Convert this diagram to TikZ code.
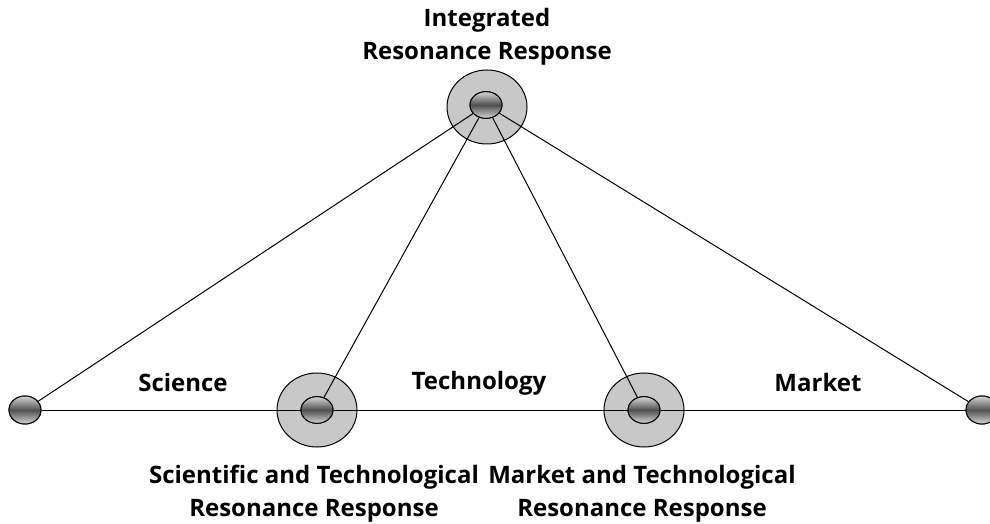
\documentclass[tikz,border=0pt]{standalone}
\usepackage{fontspec}
\setmainfont{Open Sans}
\usetikzlibrary{shapes.geometric}

\tikzset{every picture/.style={line width=0.75pt}}
\tikzset{
  outerring/.style={ellipse,draw,fill={rgb, 255:red, 200; green, 200; blue, 200},minimum width=60pt,minimum height=55.5pt,inner sep=0pt},
  innercore/.style={ellipse,draw,shading=axis,top color={rgb, 255:red, 215; green, 215; blue, 215},bottom color={rgb, 255:red, 215; green, 215; blue, 215},middle color={rgb, 255:red, 80; green, 80; blue, 80},minimum width=24pt,minimum height=20pt,inner sep=0pt},
  lbl/.style={font=\bfseries\fontsize{18}{25}\selectfont,align=center}
}

\begin{document}
\begin{tikzpicture}[x=0.75pt,y=0.75pt,yscale=-1,xscale=1]
	\useasboundingbox (0,0) rectangle (990,524);

	%Shape: Ellipse (outer rings)
	\node [outerring] (topring) at (487,107) {};
	\node [outerring] (sciring) at (317,410) {};
	\node [outerring] (mktring) at (644,410) {};

	%Shape: Ellipse (cores)
	\path (486,105) node [innercore] (top) {};
	\path (317,410) node [innercore] (sci) {};
	\path (644,410) node [innercore] (mkt) {};
	\path (25,410) node [innercore,minimum height=21pt] (left) {};
	\path (982,410) node [innercore,minimum height=21pt] (right) {};

	%Straight Lines
	\draw (left) -- (sci) ;
	\draw (sci) -- (mkt) ;
	\draw (mkt) -- (right) ;
	\draw (top) -- (left) ;
	\draw (top) -- (sci) ;
	\draw (top) -- (mkt) ;
	\draw (top) -- (right) ;

	%redraw cores over the lines
	\path (486,105) node [innercore] {};
	\path (317,410) node [innercore] {};
	\path (644,410) node [innercore] {};
	\path (25,410) node [innercore,minimum height=21pt] {};
	\path (982,410) node [innercore,minimum height=21pt] {};

	% Text Node
	\node [lbl] (toplbl) at (487,37) {Integrated\\Resonance Response};
	% Text Node
	\node [lbl] (scilbl) at (314,494) {Scientific and Technological\\Resonance Response};
	% Text Node
	\node [lbl] (mktlbl) at (642,494) {Market and Technological\\Resonance Response};
	% Text Node
	\node [lbl] (science) at (183,383) {Science};
	% Text Node
	\node [lbl] (technology) at (479,383) {Technology};
	% Text Node
	\node [lbl] (market) at (818,383) {Market};

\end{tikzpicture}
\end{document}
